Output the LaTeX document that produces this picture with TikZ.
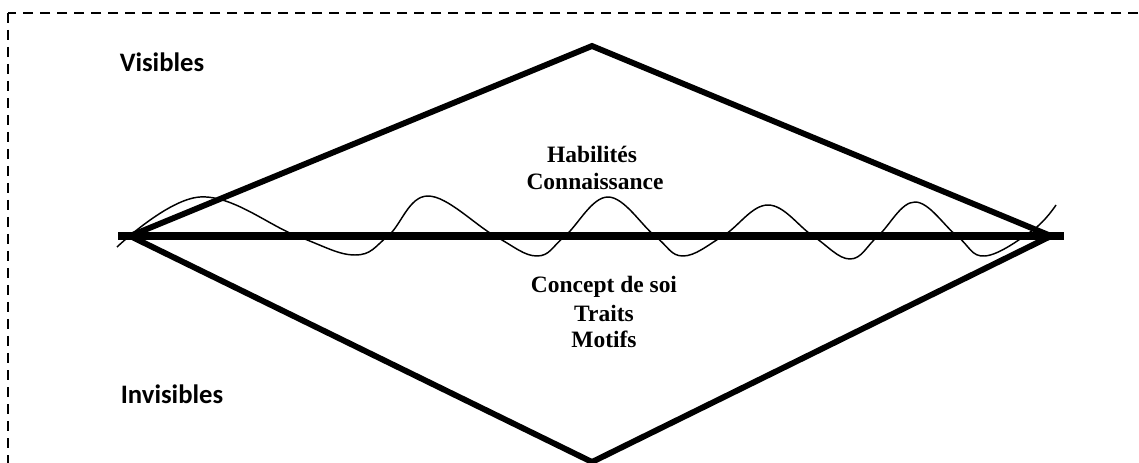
\documentclass[tikz,border=0pt]{standalone}
\usepackage{fontspec}
\setmainfont{Liberation Serif}
\newfontfamily\calibrifont{Carlito}
\usetikzlibrary{positioning}
\tikzset{
  frame/.style={dash pattern=on 7.5pt off 5.25pt,line width=1.9pt},
  rhombus/.style={line width=4.4pt,line join=miter},
  axisline/.style={line width=5.4pt},
  wave/.style={line width=1.1pt},
  zone/.style={font=\calibrifont\bfseries\fontsize{20}{24}\selectfont,anchor=base,inner sep=0pt},
  lbl/.style={font=\bfseries\fontsize{17.6}{20.3}\selectfont,anchor=base,inner sep=0pt},
}
\begin{document}
\begin{tikzpicture}[x=0.75pt,y=-0.75pt]
\useasboundingbox (0,0) rectangle (1139,463);
\clip (0,0) rectangle (1139,463);

% dashed frame (runs off the right and bottom edges)
\draw[frame] (8,13) rectangle (1160,480);

% diamond corners
\coordinate (top) at (592,46);
\coordinate (rgt) at (1051,236);
\coordinate (bot) at (592,462);
\coordinate (lft) at (130,236);
\coordinate (axL) at (118,236);
\coordinate (axR) at (1064,236);

\draw[rhombus] (top) -- (rgt) -- (bot) -- (lft) -- cycle;
\draw[axisline] (axL) -- (axR);

% wavy line along the axis
\draw[wave] plot[smooth,tension=0.65] coordinates
  {(117,247)(200,197)(297,236)(355,255)(388,236)(428,196)(495,236)
   (537,256)(565,236)(608,197)(655,236)(683,256)(723,236)(768,205)
   (813,236)(850,259)(878,236)(915,202)(957,236)(985,256)(1033,230)(1056,205)};

% labels
\node[zone] (vis) at (162,72) {Visibles};
\node[zone] (invis) at (172,403) {Invisibles};

\node[lbl] (hab) at (592,163) {Habilités};
\node[lbl] (conn) at (595,190) {Connaissance};
\node[lbl] (concept) at (604,293) {Concept de soi};
\node[lbl] (traits) at (604,321) {Traits};
\node[lbl] (motifs) at (604,348) {Motifs};

\end{tikzpicture}
\end{document}
